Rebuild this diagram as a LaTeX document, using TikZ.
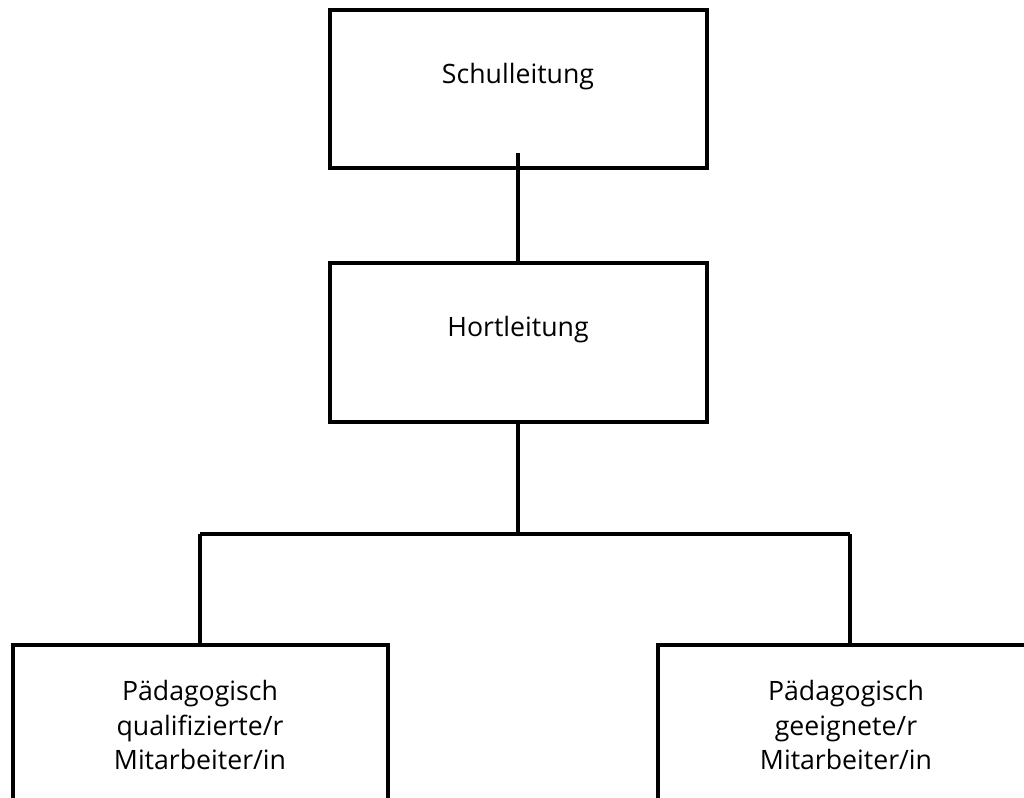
\documentclass[tikz,border=0pt]{standalone}
\usepackage{fontspec}
\setmainfont{Open Sans}
\begin{document}
\begin{tikzpicture}[x=0.75pt,y=-0.75pt,
  box/.style={draw=black,line width=2.6pt,inner sep=0pt,outer sep=0pt,anchor=north west},
  lbl/.style={align=center,inner sep=0pt,font=\fontsize{20}{25.9}\selectfont},
  conn/.style={line width=2.6pt}]
\useasboundingbox (0,0) rectangle (1024,798);
\clip (0,0) rectangle (1024,798);
\fill[white] (0,0) rectangle (1024,798);
\node[box,minimum width=377*0.75pt,minimum height=158*0.75pt] (schul) at (330,10) {};
\node[box,minimum width=377*0.75pt,minimum height=159*0.75pt] (hort) at (330,263) {};
\node[box,minimum width=375*0.75pt,minimum height=200*0.75pt] (quali) at (13,645) {};
\node[box,minimum width=376*0.75pt,minimum height=200*0.75pt] (geeig) at (658,645) {};
\node[lbl] (tschul) at (518,77) {Schulleitung};
\node[lbl] (thort) at (518,330) {Hortleitung};
\node[lbl] (tquali) at (200,725) {Pädagogisch\\qualifizierte/r\\Mitarbeiter/in};
\node[lbl] (tgeeig) at (846,725) {Pädagogisch\\geeignete/r\\Mitarbeiter/in};
\coordinate (s1) at (518,153);
\coordinate (j) at (518,534);
\coordinate (jl) at (200,534);
\coordinate (jr) at (850,534);
\draw[conn] (s1) -- (s1 |- hort.north);
\draw[conn] (j |- hort.south) -- (j);
\draw[conn] (jl) -- (jr);
\draw[conn] (jl) -- (jl |- quali.north);
\draw[conn] (jr) -- (jr |- geeig.north);
\end{tikzpicture}
\end{document}
